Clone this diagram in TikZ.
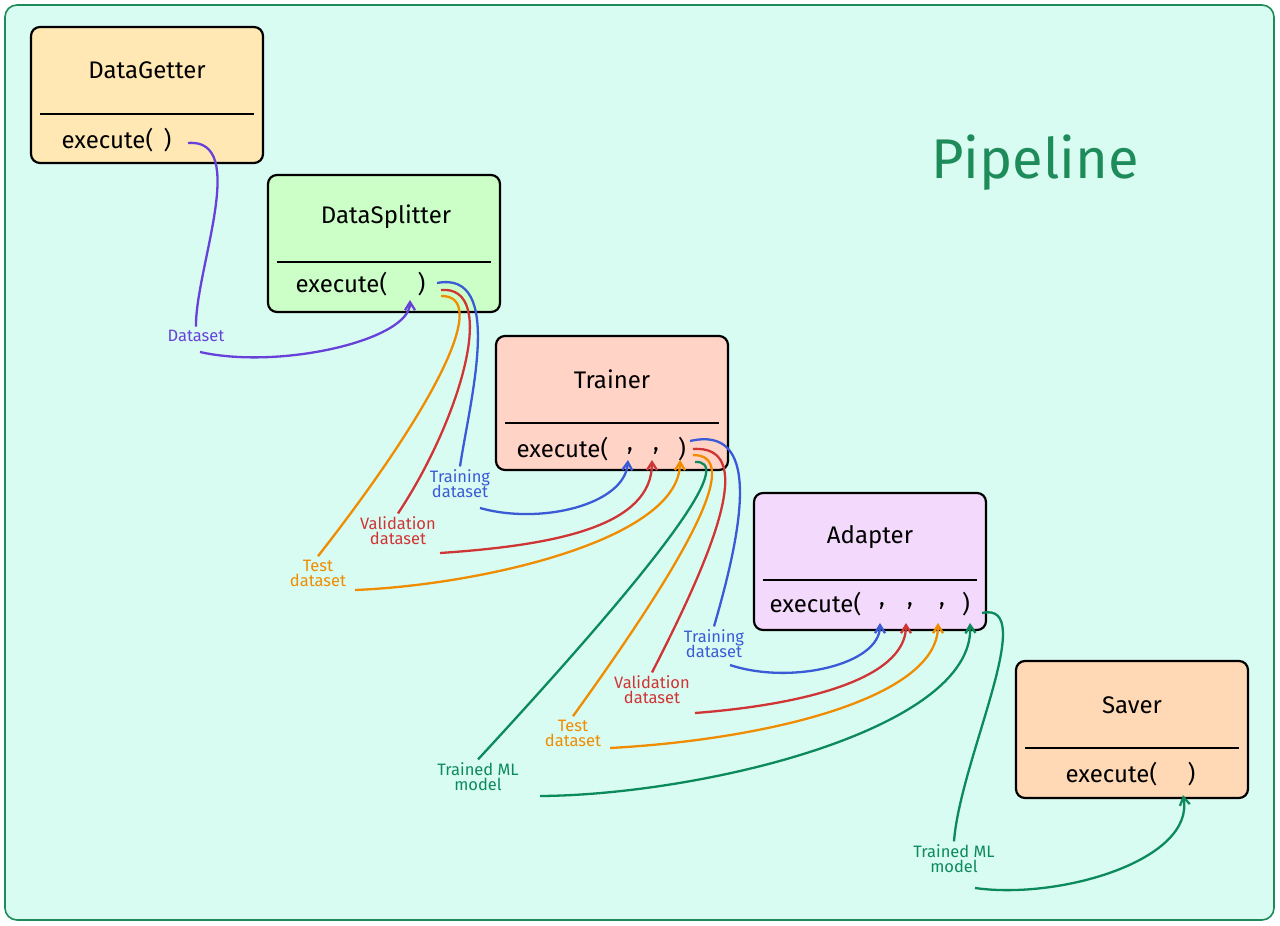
\documentclass[tikz,border=0pt]{standalone}
\usepackage{fontspec}
\setmainfont{Fira Sans}
\usetikzlibrary{arrows.meta}
\definecolor{bgc}{HTML}{D8FCF2}
\definecolor{frm}{HTML}{1E8C5A}
\definecolor{cy}{HTML}{FFE8B3}
\definecolor{cg}{HTML}{CCFFC7}
\definecolor{cs}{HTML}{FFD3C6}
\definecolor{cl}{HTML}{F3D9FB}
\definecolor{cp}{HTML}{FFD8B5}
\definecolor{pur}{HTML}{6741D9}
\definecolor{blu}{HTML}{3B5BD6}
\definecolor{red}{HTML}{D03535}
\definecolor{org}{HTML}{F08C00}
\definecolor{grn}{HTML}{0C8A5C}
\begin{document}
\begin{tikzpicture}[x=1pt,y=-1pt,
  box/.style={draw=black,line width=2.2pt,rounded corners=9pt},
  ttl/.style={font=\fontsize{24}{26}\selectfont},
  lbl/.style={font=\fontsize{16.5}{18}\selectfont,align=center},
  con/.style={line width=2.3pt},
  arr/.style={con,-{Straight Barb[length=8pt,width=10pt]}}]
\useasboundingbox (0,0) rectangle (1280,926);
\draw[frm,fill=bgc,line width=1.6pt,rounded corners=12pt] (5,5) rectangle (1274,920);
\node[frm,font=\fontsize{56}{60}\selectfont] (pl) at (1035,163) {Pipeline};
% boxes
\newcommand{\umlbox}[5]{%
  \draw[box,fill=#5] (#1,#2) rectangle (#3,#4);
  \draw[line width=2.2pt] (#1+9,#2+87) -- (#3-9,#2+87);
}
\umlbox{31}{27}{263}{163}{cy}
\umlbox{268}{175}{500}{312}{cg}
\umlbox{496}{336}{728}{470}{cs}
\umlbox{754}{493}{986}{630}{cl}
\umlbox{1016}{661}{1248}{798}{cp}
\node[ttl] (t1) at (147,70) {DataGetter};
\node[ttl,anchor=west] (e1) at (58,140) {execute( \,)};
\node[ttl] (t2) at (386,217) {DataSplitter};
\node[ttl,anchor=west] (e2) at (292,284) {execute( \quad)};
\node[ttl] (t3) at (612,379) {Trainer};
\node[ttl,anchor=west] (e3) at (513,449) {execute(};
\node[ttl] (c31) at (630,451) {,};
\node[ttl] (c32) at (656,451) {,};
\node[ttl] (c33) at (682,449) {)};
\node[ttl] (t4) at (870,537) {Adapter};
\node[ttl,anchor=west] (e4) at (766,604) {execute(};
\node[ttl] (c41) at (882,606) {,};
\node[ttl] (c42) at (910,606) {,};
\node[ttl] (c43) at (942,606) {,};
\node[ttl] (c44) at (966,604) {)};
\node[ttl] (t5) at (1132,705) {Saver};
\node[ttl,anchor=west] (e5) at (1062,774) {execute( \quad)};
% labels
\node[lbl,pur] (ld) at (196,336) {Dataset};
\node[lbl,blu] (lt1) at (460,484) {Training\\[-3pt]dataset};
\node[lbl,red] (lv1) at (398,531) {Validation\\[-3pt]dataset};
\node[lbl,org] (ls1) at (318,573) {Test\\[-3pt]dataset};
\node[lbl,blu] (lt2) at (714,644) {Training\\[-3pt]dataset};
\node[lbl,red] (lv2) at (652,690) {Validation\\[-3pt]dataset};
\node[lbl,org] (ls2) at (573,733) {Test\\[-3pt]dataset};
\node[lbl,grn] (lm1) at (478,777) {Trained ML\\[-3pt]model};
\node[lbl,grn] (lm2) at (954,859) {Trained ML\\[-3pt]model};
% coordinates
\coordinate (s1) at (188,143); \coordinate (a1) at (410,300);
\coordinate (sb2) at (437,283); \coordinate (sr2) at (441,290); \coordinate (so2) at (441,296);
\coordinate (ab3) at (628,460); \coordinate (ar3) at (652,460); \coordinate (ao3) at (680,460);
\coordinate (sb3) at (690,441); \coordinate (sr3) at (693,449); \coordinate (so3) at (693,455); \coordinate (sg3) at (695,462);
\coordinate (ab4) at (880,623); \coordinate (ar4) at (906,623); \coordinate (ao4) at (938,623); \coordinate (ag4) at (970,623);
\coordinate (sg4) at (982,613); \coordinate (a5) at (1183,795);
% purple
\draw[con,pur] (s1) .. controls (250,138) and (195,270) .. (ld.north);
\draw[arr,pur] (200,352) .. controls (280,370) and (410,340) .. (a1);
% splitter outputs
\draw[con,blu] (sb2) .. controls (505,270) and (470,400) .. (lt1.north);
\draw[con,red] (sr2) .. controls (500,285) and (460,420) .. (lv1.north);
\draw[con,org] (so2) .. controls (490,295) and (440,400) .. (ls1.north);
\draw[arr,blu] (480,508) .. controls (540,525) and (625,505) .. (ab3);
\draw[arr,red] (440,553) .. controls (560,545) and (652,525) .. (ar3);
\draw[arr,org] (355,590) .. controls (480,585) and (680,540) .. (ao3);
% trainer outputs
\draw[con,blu] (sb3) .. controls (760,425) and (745,520) .. (lt2.north);
\draw[con,red] (sr3) .. controls (755,445) and (720,540) .. (lv2.north);
\draw[con,org] (so3) .. controls (740,455) and (700,540) .. (ls2.north);
\draw[con,grn] (sg3) .. controls (730,460) and (690,530) .. (lm1.north);
\draw[arr,blu] (730,665) .. controls (790,685) and (880,665) .. (ab4);
\draw[arr,red] (695,713) .. controls (800,705) and (906,680) .. (ar4);
\draw[arr,org] (610,748) .. controls (760,740) and (938,700) .. (ao4);
\draw[arr,grn] (540,796) .. controls (700,795) and (975,730) .. (ag4);
% adapter output
\draw[con,grn] (sg4) .. controls (1040,600) and (960,760) .. (lm2.north);
\draw[arr,grn] (975,888) .. controls (1060,900) and (1195,860) .. (a5);
\end{tikzpicture}
\end{document}
